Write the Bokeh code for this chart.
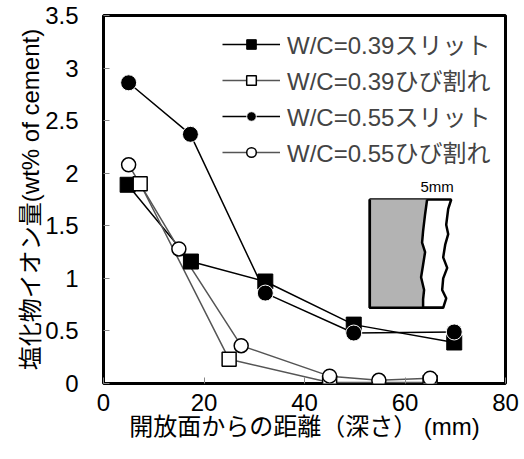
from bokeh.plotting import figure
from bokeh.models import Legend, LegendItem, Range1d, FixedTicker
from bokeh.embed import file_html
from bokeh.resources import INLINE
from bokeh.core.properties import value

# ---- data ----
x_39s = [4.8, 17.4, 32.2, 49.8, 69.8]
y_39s = [1.89, 1.16, 0.97, 0.56, 0.39]

x_39c = [7.3, 25.0, 45.0, 65.0]
y_39c = [1.90, 0.23, 0.01, 0.01]

x_55s = [5.0, 17.3, 32.2, 49.8, 69.8]
y_55s = [2.86, 2.37, 0.86, 0.48, 0.49]

x_55c = [5.0, 15.0, 27.4, 45.0, 54.8, 65.0]
y_55c = [2.08, 1.28, 0.36, 0.07, 0.03, 0.05]

labels = ["W/C=0.39スリット", "W/C=0.39ひび割れ", "W/C=0.55スリット", "W/C=0.55ひび割れ"]
x_ticks = [0, 20, 40, 60, 80]
y_ticks = [0, 0.5, 1, 1.5, 2, 2.5, 3, 3.5]

# inset sketch (decoration)
inset_left = 53.0
inset_top = 1.75
inset_bottom = 0.72
left_wave_x = [64.4, 64.0, 63.6, 63.4, 64.0, 63.6, 63.2, 63.8, 63.6, 63.6]
left_wave_y = [1.75, 1.61, 1.45, 1.34, 1.25, 1.13, 1.01, 0.89, 0.80, 0.72]
right_wave_x = [69.2, 68.6, 68.2, 68.6, 68.0, 67.6, 68.4, 67.6, 67.4, 68.2, 67.8, 67.6]
right_wave_y = [1.75, 1.66, 1.51, 1.42, 1.32, 1.20, 1.10, 1.00, 0.89, 0.81, 0.75, 0.72]

FONT = "Liberation Sans, Noto Sans CJK JP"

p = figure(width=520, height=455, output_backend="svg", toolbar_location=None,
           x_range=Range1d(0, 80), y_range=Range1d(0, 3.5),
           min_border_left=103, min_border_right=15, min_border_top=15, min_border_bottom=72)
p.background_fill_color = "white"
p.border_fill_color = "white"
p.outline_line_color = "black"
p.outline_line_width = 3
p.grid.visible = False

for ax in (p.xaxis[0], p.yaxis[0]):
    ax.axis_line_color = None
    ax.major_tick_in = 6
    ax.major_tick_out = 0
    ax.minor_tick_line_color = None
    ax.major_tick_line_color = "#888888"
    ax.major_label_text_font = FONT
    ax.major_label_text_font_size = "24px"
    ax.major_label_text_color = "black"
    ax.axis_label_text_font = FONT
    ax.axis_label_text_font_style = "normal"
    ax.axis_label_text_color = "black"
    ax.axis_label_text_font_size = "24px"

p.xaxis.ticker = FixedTicker(ticks=x_ticks)
p.yaxis.ticker = FixedTicker(ticks=y_ticks)
p.xaxis.major_label_standoff = 10
p.yaxis.major_label_standoff = 25
p.xaxis.axis_label = "開放面からの距離（深さ） (mm)"
p.yaxis.axis_label = "塩化物イオン量(wt% of cement)"
p.xaxis.axis_label_standoff = -1
p.yaxis.axis_label_standoff = -2

# inset sketch
outer_x = [inset_left] + right_wave_x + [inset_left]
outer_y = [inset_top] + right_wave_y + [inset_bottom]
p.patch(outer_x, outer_y, fill_color="white", line_color="black", line_width=2.5)
gray_x = [inset_left] + left_wave_x + [inset_left]
gray_y = [inset_top] + left_wave_y + [inset_bottom]
p.patch(gray_x, gray_y, fill_color="#b3b3b3", line_color=None)
p.line(left_wave_x, left_wave_y, line_color="black", line_width=2.5)
p.line([inset_left, inset_left, right_wave_x[-1]], [inset_top, inset_bottom, inset_bottom],
       line_color="black", line_width=2.5)
p.text(x=[66.4], y=[1.87], text=["5mm"], text_font=value(FONT), text_font_size="15px",
       text_align="center", text_baseline="middle", text_color="black")

# series
r1l = p.line(x_39s, y_39s, line_color="black", line_width=1.5)
r2l = p.line(x_39c, y_39c, line_color="#555555", line_width=1.5)
r3l = p.line(x_55s, y_55s, line_color="black", line_width=1.5)
r4l = p.line(x_55c, y_55c, line_color="#555555", line_width=1.5)

r1m = p.scatter(x_39s, y_39s, marker="square", size=15, fill_color="black", line_color="black")
r2m = p.scatter(x_39c, y_39c, marker="square", size=14, fill_color="white", line_color="black", line_width=1.5)
r3m = p.scatter(x_55s, y_55s, marker="circle", size=16, fill_color="black", line_color="white", line_width=1)
r4m = p.scatter(x_55c, y_55c, marker="circle", size=14, fill_color="white", line_color="black", line_width=1.5)

legend = Legend(items=[
    LegendItem(label=labels[0], renderers=[r1l, r1m]),
    LegendItem(label=labels[1], renderers=[r2l, r2m]),
    LegendItem(label=labels[2], renderers=[r3l, r3m]),
    LegendItem(label=labels[3], renderers=[r4l, r4m]),
], location=(119, 214))
legend.background_fill_alpha = 0
legend.border_line_color = None
legend.label_text_font = FONT
legend.label_text_font_size = "24px"
legend.glyph_width = 58
legend.glyph_height = 24
legend.label_height = 24
legend.spacing = 1
legend.padding = 0
legend.margin = 0
legend.label_standoff = 7
p.add_layout(legend, "center")

open("out.html", "w").write(file_html(p, INLINE))
